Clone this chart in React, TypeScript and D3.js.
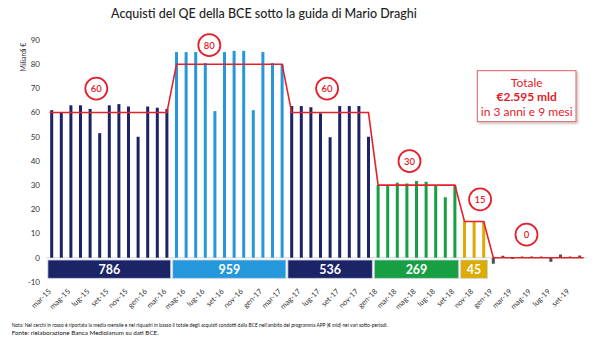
import React from "react";
import * as d3 from "d3";

const monthNames = ["gen", "feb", "mar", "apr", "mag", "giu", "lug", "ago", "set", "ott", "nov", "dic"];
const months: string[] = [];
for (let yr = 15; yr <= 19; yr++) {
  for (let m = 0; m < 12; m++) {
    if (yr === 15 && m < 2) continue;
    if (yr === 19 && m > 9) continue;
    months.push(`${monthNames[m]}-${yr}`);
  }
}

const values = [
  61, 60, 63, 63, 61.5, 51.5, 63, 63.5, 62.5, 50, 62.5, 62, 61.5,
  85, 85, 85, 80.5, 60.6, 85, 85.5, 85.5, 61, 85, 80.5, 80,
  62.7, 62.7, 62.2, 59.7, 49.8, 62.7, 62.7, 62.7, 50,
  30, 29.6, 31, 30.7, 31.7, 31.4, 30, 25, 30,
  15, 15, 15,
  -2.5, 0.8, -0.4, 0.2, 0.5, 0.1, -1.7, 1.3, 0.1, 0.9,
];

const periodStart = [0, 13, 25, 34, 43, 46];
const periodEnd = [12, 24, 33, 42, 45, 55];
const periodAvg = [60, 80, 60, 30, 15, 0];
const periodTotal = ["786", "959", "536", "269", "45", ""];

const yTicks = [90, 80, 70, 60, 50, 40, 30, 20, 10, 0, -10];

const title = "Acquisti del QE della BCE sotto la guida di Mario Draghi";
const totalLines = ["Totale", "€2.595 mld", "in 3 anni e 9 mesi"];
const noteText =
  "Nota: Nei cerchi in rosso è riportata la media mensile e nei riquadri in basso il totale degli acquisti condotti dalla BCE nell'ambito del programma APP (€ mld) nei vari sotto-periodi.";
const sourceText = "Fonte: rielaborazione Banca Mediolanum su dati BCE.";

// styles / layout
const periodColors = ["#1b2466", "#2598dc", "#1b2466", "#16a043", "#deab00", "#4a4f5c"];
const circleDx = [-13, -20, -3, -7, 6, -10];
const circleDy = [-24, -19, -24, -24, -22, -23];
const RED = "#e5202b";
const FONT = "Lato, 'Open Sans', sans-serif";

export default function App() {
  const W = 600;
  const H = 347;
  const x = d3.scalePoint<string>().domain(months).range([46.9, 584.5]).padding(0.5);
  const y = d3.scaleLinear().domain([-10, 90]).range([281.9, 40]);
  const step = x.step();
  const bw = 3;

  const periodOf = (i: number) => periodStart.findIndex((s, k) => i >= s && i <= periodEnd[k]);

  const linePts: [number, number][] = [];
  periodStart.forEach((s, k) => {
    const e = periodEnd[k];
    const x0 = (x(months[s]) as number) - (k === 0 ? 2 : 0);
    const x1 = (x(months[e]) as number) + (k === periodStart.length - 1 ? 4 : 0);
    linePts.push([x0, y(periodAvg[k])]);
    linePts.push([x1, y(periodAvg[k])]);
  });
  const line = d3.line();

  return (
    <svg width={W} height={H} style={{ display: "block", position: "absolute", left: 0, top: 0, background: "#fff" }} fontFamily={FONT}>
      <defs>
        <filter id="sh" x="-10%" y="-10%" width="130%" height="140%">
          <feDropShadow dx="1.5" dy="1.5" stdDeviation="1" floodColor="#000" floodOpacity="0.25" />
        </filter>
      </defs>
      <rect x={0} y={0} width={W} height={H} fill="#fff" />
      <text x={264} y={18} textAnchor="middle" fontSize={12.5} fill="#222" fontWeight={500}>
        {title}
      </text>

      {/* y axis labels */}
      {yTicks.map((t) => (
        <text key={t} x={40} y={y(t)} dy="0.35em" textAnchor="end" fontSize={8} fill="#333">
          {t}
        </text>
      ))}
      <text transform={`translate(24,57) rotate(-90)`} textAnchor="middle" dy="0.35em" fontSize={7} fill="#333">
        Miliardi €
      </text>

      {/* zero line */}
      <line x1={46} x2={586} y1={y(0)} y2={y(0)} stroke="#d8d8d8" strokeWidth={1} />

      {/* bars */}
      {values.map((v, i) => {
        const xc = x(months[i]) as number;
        const y0 = y(0);
        const y1 = y(v);
        const k = periodOf(i);
        const h = Math.max(Math.abs(y1 - y0), 1.2);
        return (
          <rect
            key={i}
            x={xc - bw / 2}
            y={v >= 0 ? y0 - h : y0}
            width={bw}
            height={h}
            fill={periodColors[k]}
          />
        );
      })}

      {/* average line */}
      <path d={line(linePts) || ""} fill="none" stroke={RED} strokeWidth={1.6} />

      {/* circles */}
      {periodStart.map((s, k) => {
        const cx = ((x(months[s]) as number) + (x(months[periodEnd[k]]) as number)) / 2 + circleDx[k];
        const cy = y(periodAvg[k]) + circleDy[k];
        return (
          <g key={k}>
            <circle cx={cx} cy={cy} r={11} fill="#fff" stroke={RED} strokeWidth={1.8} />
            <text x={cx} y={cy} dy="0.36em" textAnchor="middle" fontSize={9.5} fill={RED} fontWeight={600}>
              {periodAvg[k]}
            </text>
          </g>
        );
      })}

      {/* total boxes */}
      {periodStart.map((s, k) => {
        if (!periodTotal[k]) return null;
        const x0 = (x(months[s]) as number) - step / 2 + 1;
        const x1 = (x(months[periodEnd[k]]) as number) + step / 2 - 1;
        return (
          <g key={k}>
            <rect x={x0} y={260} width={x1 - x0} height={18.3} fill={periodColors[k]} stroke="#c9d3e0" strokeWidth={0.8} />
            <text x={(x0 + x1) / 2} y={269.2} dy="0.36em" textAnchor="middle" fontSize={12.5} fontWeight={700} fill="#fff">
              {periodTotal[k]}
            </text>
          </g>
        );
      })}

      {/* x labels */}
      {months.map((m, i) =>
        i % 2 === 0 ? (
          <text
            key={m}
            transform={`translate(${(x(m) as number) - 2},${290}) rotate(-45)`}
            textAnchor="end"
            dy="0.35em"
            fontSize={7.5}
            fill="#333"
          >
            {m}
          </text>
        ) : null
      )}

      {/* total callout */}
      <rect x={477.3} y={70.7} width={98.7} height={51} fill="#fff" stroke="#e06060" strokeWidth={1} filter="url(#sh)" />
      {totalLines.map((t, i) => (
        <text
          key={i}
          x={526.7}
          y={[82.7, 96.5, 111.7][i]}
          dy="0.36em"
          textAnchor="middle"
          fontSize={12}
          fontWeight={i === 1 ? 700 : 400}
          fill={RED}
        >
          {t}
        </text>
      ))}

      {/* notes */}
      <text x={11.7} y={327.3} fontSize={5.6} fill="#111" textLength={376} lengthAdjust="spacingAndGlyphs">
        {noteText}
      </text>
      <text x={11.7} y={335.3} fontSize={5.6} fill="#111" textLength={147} lengthAdjust="spacingAndGlyphs">
        {sourceText}
      </text>
    </svg>
  );
}
